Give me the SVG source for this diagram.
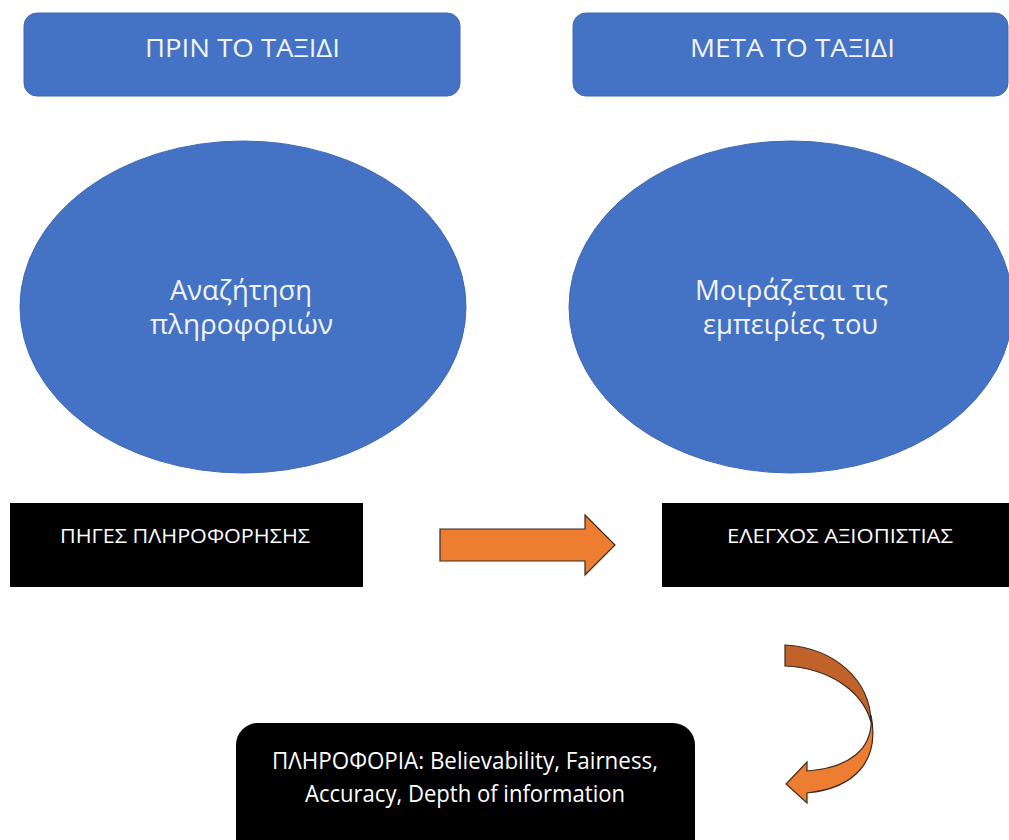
<svg xmlns="http://www.w3.org/2000/svg" width="1009" height="840" viewBox="0 0 1009 840">
<style>
.blue{fill:#4472C4;stroke:#3f6ab5;stroke-width:1}
.blk{fill:#000}
.t{fill:#F2F4FA;font-family:"Open Sans","Noto Sans",sans-serif;text-anchor:middle}
.tw{fill:#FFFFFF;font-family:"Open Sans","Noto Sans",sans-serif;text-anchor:middle}
.or{fill:#ED7D31;stroke:#3a2a20;stroke-width:1.2}
.ord{fill:#C0622A;stroke:#3a2a20;stroke-width:1.2}
</style>
<rect width="1009" height="840" fill="#fff"/>
<g id="before">
<rect class="blue" x="24" y="13" width="436" height="83" rx="13"/>
<text class="t" x="242.5" y="57" font-size="26" textLength="195" lengthAdjust="spacingAndGlyphs">ΠΡΙΝ ΤΟ ΤΑΞΙΔΙ</text>
</g>
<g id="after">
<rect class="blue" x="573" y="13" width="435" height="83" rx="13"/>
<text class="t" x="792.5" y="57" font-size="26" textLength="205" lengthAdjust="spacingAndGlyphs">ΜΕΤΑ ΤΟ ΤΑΞΙΔΙ</text>
</g>
<g id="search">
<ellipse class="blue" cx="243" cy="307" rx="223" ry="166"/>
<text class="t" x="241" y="300" font-size="27" textLength="142" lengthAdjust="spacingAndGlyphs">Αναζήτηση</text>
<text class="t" x="241.5" y="334" font-size="27" textLength="183" lengthAdjust="spacingAndGlyphs">πληροφοριών</text>
</g>
<g id="share">
<ellipse class="blue" cx="791" cy="307" rx="222" ry="166"/>
<text class="t" x="791.5" y="300" font-size="27" textLength="193" lengthAdjust="spacingAndGlyphs">Μοιράζεται τις</text>
<text class="t" x="790.5" y="334" font-size="27" textLength="175" lengthAdjust="spacingAndGlyphs">εμπειρίες του</text>
</g>
<g id="sources">
<rect class="blk" x="10" y="503" width="353" height="84"/>
<text class="tw" x="185" y="543" font-size="20" textLength="250" lengthAdjust="spacingAndGlyphs">ΠΗΓΕΣ ΠΛΗΡΟΦΟΡΗΣΗΣ</text>
</g>
<g id="credibility">
<rect class="blk" x="662" y="503" width="347" height="84"/>
<text class="tw" x="840" y="543" font-size="20" textLength="226" lengthAdjust="spacingAndGlyphs">ΕΛΕΓΧΟΣ ΑΞΙΟΠΙΣΤΙΑΣ</text>
</g>
<g id="information">
<rect class="blk" x="236" y="723" width="459" height="140" rx="22"/>
<text class="tw" x="465" y="769" font-size="23" textLength="386" lengthAdjust="spacingAndGlyphs">ΠΛΗΡΟΦΟΡΙΑ: Believability, Fairness,</text>
<text class="tw" x="465" y="802" font-size="23" textLength="320" lengthAdjust="spacingAndGlyphs">Accuracy, Depth of information</text>
</g>
<g id="connectors">
<path class="or" d="M440,529 L585,529 L585,515 L615,545 L585,575 L585,561 L440,561 Z"/>
<path class="ord" d="M785,645 C835,648 870,680 871,722 C862,690 828,668 785,666 Z"/>
<path class="or" d="M871,715 C874,750 848,768 807,771 L807,762 L786,784 L807,803 L807,793 C856,788 880,760 871,715 Z"/>
</g>
</svg>
